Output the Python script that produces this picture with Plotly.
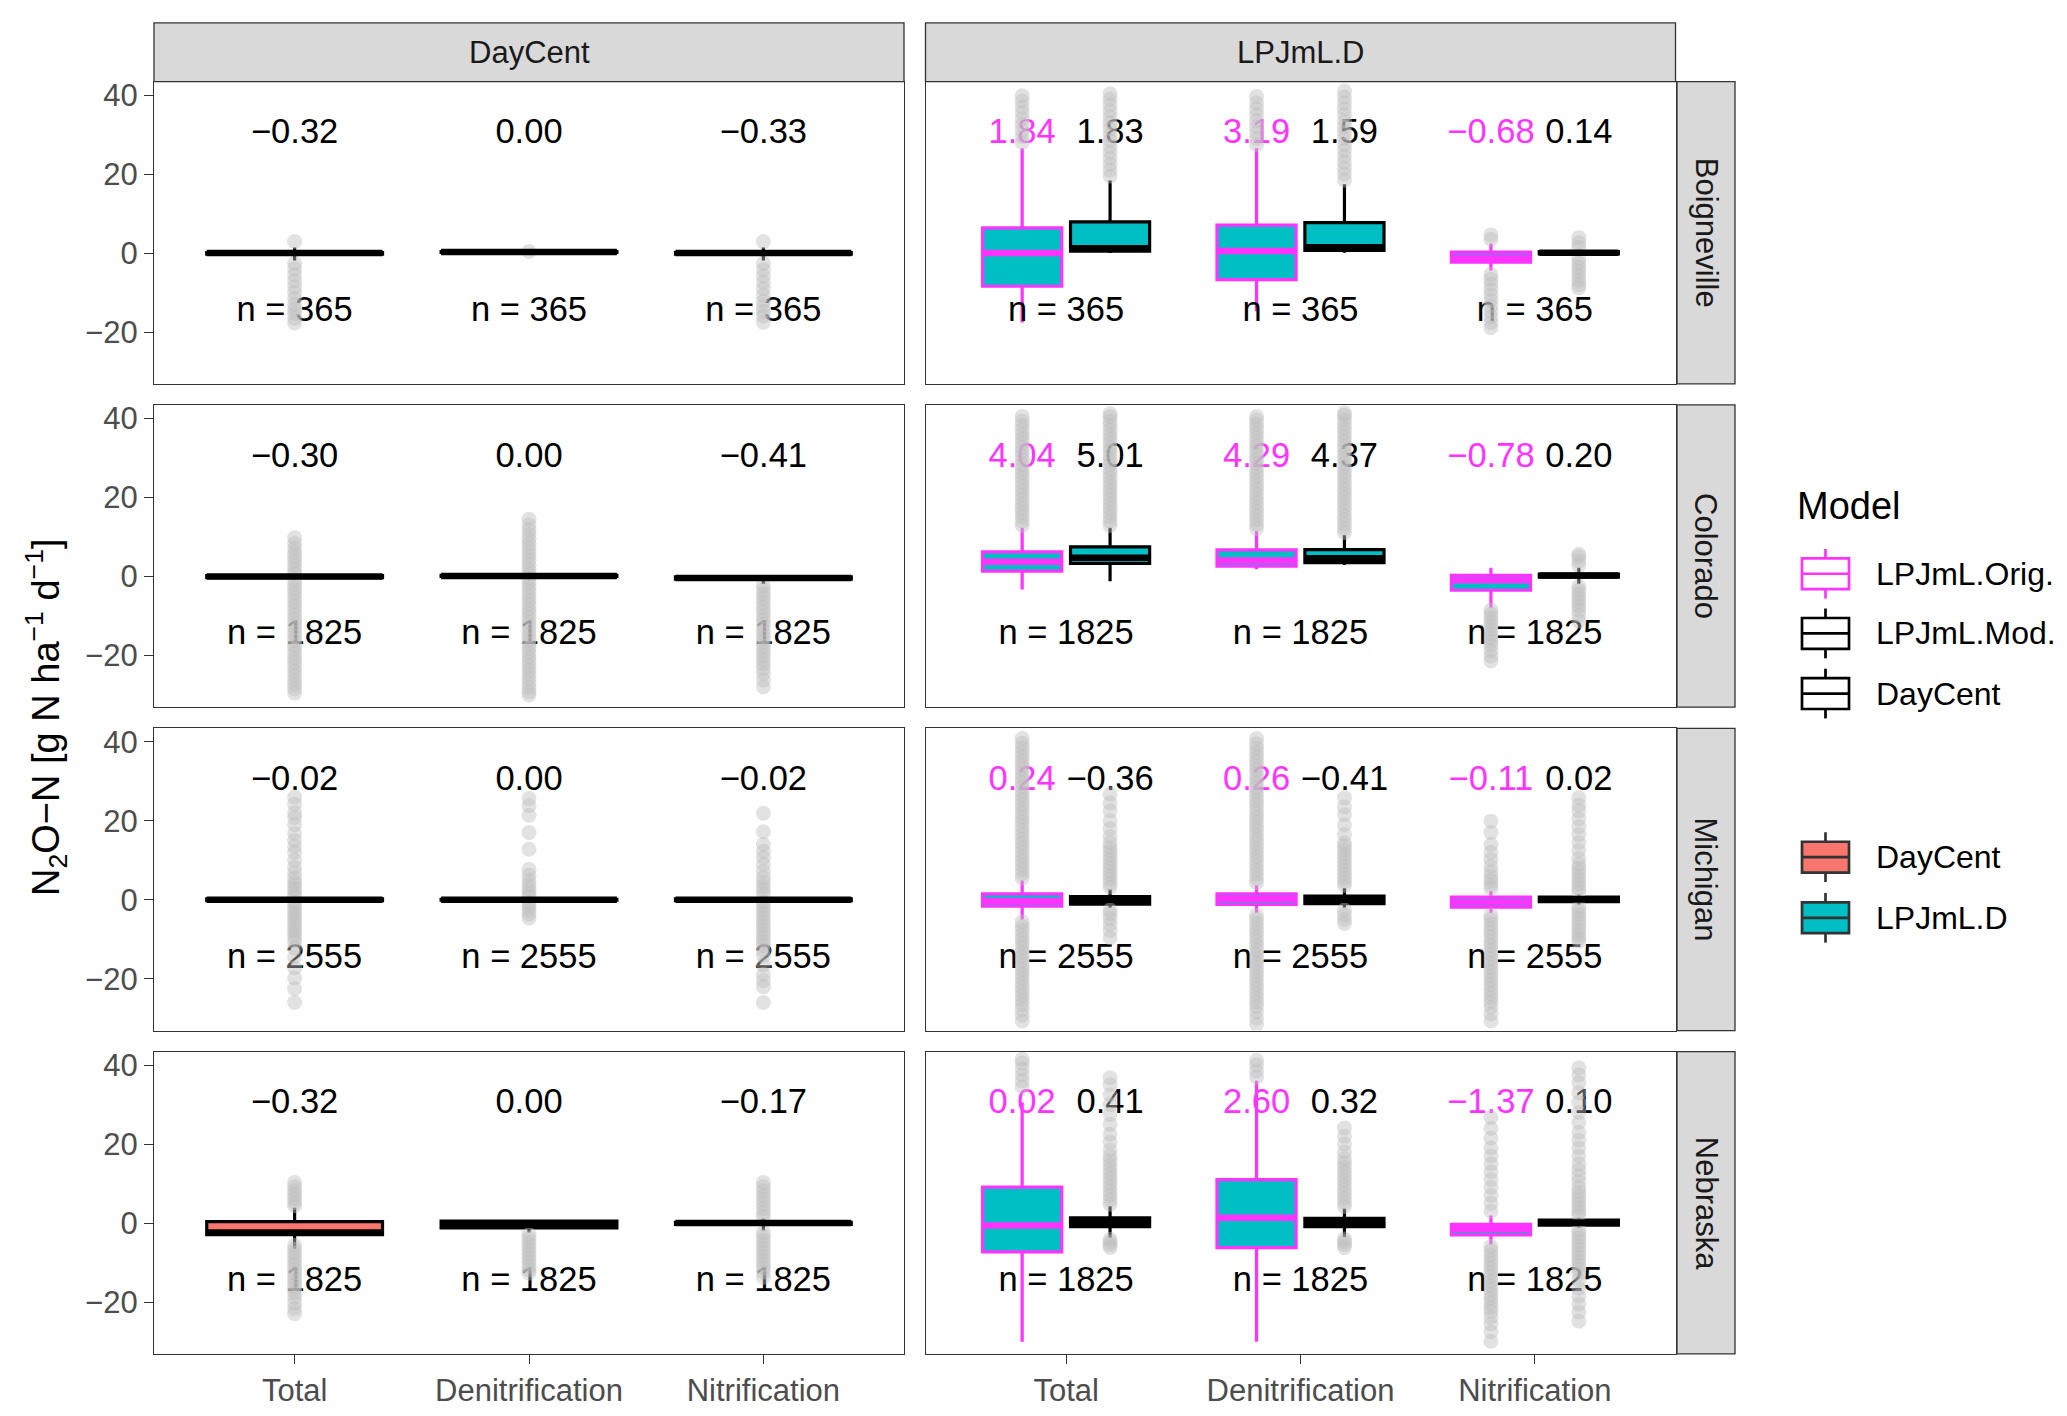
import plotly.graph_objects as go
from plotly.subplots import make_subplots

W, H = 2067, 1416
OFF = 8  # page margin around the plot div
FW, FH = W - 2 * OFF, H - 2 * OFF
FONT = "Liberation Sans, Arial, Helvetica, sans-serif"
MAGENTA = "#FF33FF"
TEAL = "#00BFC4"
SALMON = "#F8766D"
POINT = "rgba(190,190,190,0.45)"

sites = ["Boigneville", "Colorado", "Michigan", "Nebraska"]
fluxes = ["Total", "Denitrification", "Nitrification"]
columns = ["DayCent", "LPJmL.D"]
n_days = [365, 1825, 2555, 1825]

# box statistics, rows = sites, cols = fluxes
dc_q1 = [[-0.3, 0.2, -0.3], [-0.3, 0.0, -0.7], [-0.2, -0.1, -0.2], [-2.9, -1.2, -0.3]]
dc_med = [[0.0, 0.3, 0.0], [0.0, 0.1, -0.4], [0.0, 0.0, 0.0], [-2.4, -0.4, 0.0]]
dc_q3 = [[0.1, 0.4, 0.1], [0.2, 0.3, -0.1], [0.2, 0.1, 0.2], [0.4, 0.5, 0.2]]
dc_lo = [[-1.9, 0.1, -1.9], [-0.9, -0.2, -1.9], [-0.6, -0.3, -0.6], [-6.5, -2.4, -1.9]]
dc_hi = [[1.4, 0.5, 1.4], [0.6, 0.5, 0.3], [0.6, 0.3, 0.6], [3.9, 0.6, 1.1]]

orig_q1 = [[-8.4, -6.7, -2.3], [1.35, 2.6, -3.5], [-1.6, -1.2, -1.9], [-7.3, -6.2, -3.0]]
orig_med = [[0.0, 0.5, -1.2], [3.7, 4.05, -1.0], [-0.3, 0.2, -0.6], [-0.6, 1.35, -1.5]]
orig_q3 = [[6.4, 7.1, 0.25], [6.2, 6.7, 0.3], [1.5, 1.5, 0.7], [9.1, 11.0, -0.3]]
orig_lo = [[-17.6, -14.7, -4.4], [-3.3, 1.8, -7.9], [-5.0, -3.3, -3.3], [-30.0, -30.0, -5.4]]
orig_hi = [[26.5, 26.5, 2.4], [12.3, 11.5, 2.2], [4.9, 3.7, 2.2], [30.5, 36.0, 1.9]]

mod_q1 = [[0.5, 0.7, -0.2], [3.3, 3.5, -0.2], [-1.1, -1.0, -0.5], [-0.9, -0.9, -0.5]]
mod_med = [[1.2, 1.5, 0.1], [4.7, 4.6, 0.25], [0.0, 0.0, 0.1], [0.3, 0.3, 0.1]]
mod_q3 = [[7.9, 7.7, 0.4], [7.5, 6.8, 0.6], [0.8, 0.9, 0.7], [1.3, 1.2, 0.75]]
mod_lo = [[0.0, 0.1, -0.6], [-1.2, 2.9, -1.9], [-2.0, -2.0, -1.2], [-3.7, -3.5, -1.2]]
mod_hi = [[18.4, 17.4, 0.9], [12.3, 10.5, 2.2], [2.6, 3.0, 1.35], [4.3, 3.7, 1.35]]

# daily means printed above the boxes
dc_mean = [[-0.32, 0.00, -0.33], [-0.30, 0.00, -0.41], [-0.02, 0.00, -0.02], [-0.32, 0.00, -0.17]]
orig_mean = [[1.84, 3.19, -0.68], [4.04, 4.29, -0.78], [0.24, 0.26, -0.11], [0.02, 2.60, -1.37]]
mod_mean = [[1.83, 1.59, 0.14], [5.01, 4.37, 0.20], [-0.36, -0.41, 0.02], [0.41, 0.32, 0.10]]

# outliers
dc_out = [
    [[2.9, -2.6, -4.0, -5.5, -7.0, -8.5, -10.0, -11.5, -13.0, -14.2, -15.3, -16.5, -17.7],
     [0.4],
     [2.9, -2.6, -4.2, -5.8, -7.4, -9.0, -10.6, -12.2, -13.6, -14.8, -16.0, -17.5]],
    [[9.8, 8.4, 7.2, 6.1, 5.0, 3.9, 2.8, 1.7, 0.7, -0.9, -2.0, -3.1, -4.2, -5.3, -6.4, -7.5,
      -8.6, -9.7, -10.8, -11.9, -13.0, -14.1, -15.2, -16.3, -17.4, -18.5, -19.6, -20.7,
      -21.8, -22.9, -24.0, -25.1, -26.2, -27.3, -28.4, -29.5],
     [14.5, 13.0, 11.8, 10.6, 9.5, 8.4, 7.3, 6.2, 5.1, 4.0, 2.9, 1.8, 0.8, -0.6, -1.7, -2.8,
      -3.9, -5.0, -6.1, -7.2, -8.3, -9.4, -10.5, -11.6, -12.7, -13.8, -14.9, -16.0, -17.1,
      -18.2, -19.3, -20.4, -21.5, -22.6, -23.7, -24.8, -25.9, -27.0, -28.1, -29.2, -30.0],
     [-2.3, -3.4, -4.5, -5.6, -6.7, -7.8, -8.9, -10.0, -11.1, -12.2, -13.3, -14.4, -15.5,
      -16.6, -17.7, -18.8, -19.9, -21.0, -22.1, -23.2, -24.6, -26.2, -28.0]],
    [[26.0, 24.2, 22.0, 20.8, 19.0, 16.8, 15.0, 13.5, 12.0, 10.0, 8.2, 6.8, 5.5, 4.5, 3.6,
      2.7, 1.8, 0.9, -0.7, -1.6, -2.5, -3.4, -4.3, -5.2, -6.1, -7.0, -7.9, -8.8, -9.7,
      -10.7, -12.2, -14.5, -17.2, -19.8, -22.5, -26.0],
     [25.6, 23.8, 21.4, 17.0, 12.8, 7.7, 6.2, 4.9, 3.8, 2.8, 1.8, 0.9, -0.8, -1.7, -2.6,
      -3.6, -4.6],
     [21.9, 17.2, 14.0, 12.3, 10.7, 9.0, 7.2, 5.6, 4.4, 3.4, 2.4, 1.4, -0.6, -1.6, -2.6,
      -3.6, -4.6, -5.6, -6.6, -7.6, -8.6, -9.6, -10.6, -11.6, -12.8, -14.2, -16.5, -18.9,
      -20.5, -22.0, -26.0]],
    [[10.3, 9.2, 8.2, 7.2, 6.2, 5.2, 4.4, -5.6, -6.6, -7.6, -8.6, -9.6, -10.6, -11.6, -12.6,
      -13.6, -14.6, -15.6, -16.6, -17.6, -18.8, -20.2, -21.6, -22.9],
     [-2.9, -3.9, -4.9, -5.9, -6.9, -7.9, -8.9, -9.9, -10.9, -11.8, -12.7],
     [10.3, 9.2, 8.1, 7.0, 5.9, 4.8, 3.7, 2.6, 1.6, -2.4, -3.4, -4.4, -5.4, -6.4, -7.4,
      -8.4, -9.4, -10.4, -11.4, -12.4, -13.7]],
]

orig_out = [
    [[28.0, 29.5, 31.0, 32.5, 34.0, 35.5, 37.0, 38.5, 39.8],
     [27.5, 29.0, 30.5, 32.0, 33.5, 35.0, 36.5, 38.0, 39.6],
     [3.5, 4.6, -5.4, -6.6, -7.8, -9.2, -10.6, -12.0, -13.4, -14.8, -16.2, -17.6, -18.9]],
    [[12.9, 14.0, 15.1, 16.2, 17.3, 18.4, 19.5, 20.6, 21.7, 22.8, 23.9, 25.0, 26.1, 27.2,
      28.3, 29.4, 30.5, 31.6, 32.7, 33.8, 34.9, 36.0, 37.1, 38.2, 39.3, 40.5],
     [12.1, 13.2, 14.3, 15.4, 16.5, 17.6, 18.7, 19.8, 20.9, 22.0, 23.1, 24.2, 25.3, 26.4,
      27.5, 28.6, 29.7, 30.8, 31.9, 33.0, 34.1, 35.2, 36.3, 37.4, 38.5, 39.6, 40.5],
     [-8.5, -9.5, -10.5, -11.5, -12.5, -13.5, -14.5, -15.5, -16.5, -17.5, -18.8, -20.2, -21.4]],
    [[5.5, 6.6, 7.7, 8.8, 9.9, 11.0, 12.1, 13.2, 14.3, 15.4, 16.5, 17.6, 18.7, 19.8, 20.9,
      22.0, 23.1, 24.2, 25.3, 26.4, 27.5, 28.6, 29.7, 30.8, 31.9, 33.0, 34.1, 35.2, 36.3,
      37.4, 38.5, 39.6, 40.8,
      -5.6, -6.7, -7.8, -8.9, -10.0, -11.1, -12.2, -13.3, -14.4, -15.5, -16.6, -17.7, -18.8,
      -19.9, -21.0, -22.1, -23.2, -24.3, -25.4, -26.5, -27.8, -29.2, -30.7],
     [4.3, 5.4, 6.5, 7.6, 8.7, 9.8, 10.9, 12.0, 13.1, 14.2, 15.3, 16.4, 17.5, 18.6, 19.7,
      20.8, 21.9, 23.0, 24.1, 25.2, 26.3, 27.4, 28.5, 29.6, 30.7, 31.8, 32.9, 34.0, 35.1,
      36.2, 37.3, 38.4, 39.5, 40.8,
      -3.9, -5.0, -6.1, -7.2, -8.3, -9.4, -10.5, -11.6, -12.7, -13.8, -14.9, -16.0, -17.1,
      -18.2, -19.3, -20.4, -21.5, -22.6, -23.7, -24.8, -25.9, -27.0, -28.4, -30.0, -31.6],
     [2.8, 3.8, 4.8, 5.8, 7.0, 8.5, 10.2, 12.0, 14.0, 17.0, 19.9,
      -3.9, -5.0, -6.1, -7.2, -8.3, -9.4, -10.5, -11.6, -12.7, -13.8, -14.9, -16.0, -17.1,
      -18.2, -19.3, -20.4, -21.5, -22.6, -23.7, -24.8, -25.9, -27.2, -28.9, -30.7]],
    [[34.5, 36.0, 37.5, 39.0, 40.5, 41.5],
     [37.0, 38.5, 40.0, 41.2],
     [3.0, 5.0, 7.0, 9.0, 11.0, 13.0, 15.0, 17.0, 19.0, 21.5, 24.0, 26.7,
      -5.9, -7.0, -8.1, -9.2, -10.3, -11.4, -12.5, -13.6, -14.7, -15.8, -16.9, -18.0, -19.1,
      -20.2, -21.3, -22.4, -23.8, -25.5, -27.5, -29.9]],
]

mod_out = [
    [[19.5, 21.0, 22.5, 24.0, 25.5, 27.0, 28.5, 30.0, 31.5, 33.0, 34.5, 36.0, 37.5, 39.0, 40.3],
     [18.5, 20.0, 21.5, 23.0, 24.5, 26.0, 27.5, 29.0, 30.5, 32.0, 33.5, 35.0, 36.5, 38.0,
      39.5, 41.0],
     [1.5, 2.6, 3.9, -1.4, -2.5, -3.6, -4.7, -5.8, -6.9, -8.0, -8.8]],
    [[12.9, 14.0, 15.1, 16.2, 17.3, 18.4, 19.5, 20.6, 21.7, 22.8, 23.9, 25.0, 26.1, 27.2,
      28.3, 29.4, 30.5, 31.6, 32.7, 33.8, 34.9, 36.0, 37.1, 38.2, 39.3, 40.4, 41.2],
     [11.1, 12.2, 13.3, 14.4, 15.5, 16.6, 17.7, 18.8, 19.9, 21.0, 22.1, 23.2, 24.3, 25.4,
      26.5, 27.6, 28.7, 29.8, 30.9, 32.0, 33.1, 34.2, 35.3, 36.4, 37.5, 38.6, 39.7, 40.8, 41.4],
     [2.8, 3.9, 5.0, 5.6, -2.5, -3.5, -4.5, -5.5, -6.5, -7.5, -8.5, -9.8, -11.3]],
    [[3.2, 4.2, 5.2, 6.2, 7.2, 8.2, 9.2, 10.2, 11.2, 12.2, 13.2, 14.4, 16.0, 18.0, 20.0,
      22.5, 24.5, 26.7, -2.6, -3.6, -4.8, -6.2, -7.8, -9.6],
     [3.6, 4.6, 5.6, 6.6, 7.6, 8.6, 9.6, 10.6, 11.6, 12.6, 13.6, 14.4, 16.5, 19.0, 21.5,
      23.5, 25.8, -2.6, -3.8, -5.0, -6.0],
     [2.0, 3.0, 4.0, 5.0, 6.0, 7.0, 8.0, 9.0, 10.5, 12.5, 14.5, 16.5, 18.5, 20.5, 22.5,
      24.0, 25.8, -1.8, -2.8, -3.8, -4.8, -5.8, -6.8, -7.8, -8.8, -9.7, -10.5]],
    [[4.8, 5.9, 7.0, 8.1, 9.2, 10.3, 11.4, 12.5, 13.6, 14.7, 15.8, 17.0, 18.5, 20.5, 22.5,
      25.0, 27.5, 30.0, 32.5, 35.0, 36.8, -4.1, -4.8, -5.5, -6.2],
     [4.2, 5.3, 6.4, 7.5, 8.6, 9.7, 10.8, 11.9, 13.0, 14.1, 15.2, 16.3, 18.0, 20.0, 22.0,
      24.1, -4.0, -4.7, -5.4, -6.2],
     [1.9, 2.9, 3.9, 4.9, 5.9, 6.9, 7.9, 9.0, 10.5, 12.0, 13.5, 15.0, 17.0, 19.0, 21.0,
      23.0, 25.5, 28.0, 30.5, 33.0, 35.5, 37.5, 39.3,
      -1.7, -2.7, -3.7, -4.7, -5.7, -6.7, -7.7, -8.7, -9.7, -10.7, -11.7, -12.8, -14.5,
      -16.5, -18.5, -20.5, -22.5, -24.8]],
]


def fmt(v):
    return f"{v:.2f}".replace("-", "\u2212")


def px_x(x):
    return (x - OFF) / FW


def px_y(y):
    return 1 - (y - OFF) / FH


# series drawn in each facet column: (stats, means, outliers, line, fill, offset, width)
dc_series = [(dc_q1, dc_med, dc_q3, dc_lo, dc_hi, dc_mean, dc_out, "black", SALMON, 0.0, 0.75)]
lpj_series = [
    (orig_q1, orig_med, orig_q3, orig_lo, orig_hi, orig_mean, orig_out, MAGENTA, TEAL, -0.1875, 0.3375),
    (mod_q1, mod_med, mod_q3, mod_lo, mod_hi, mod_mean, mod_out, "black", TEAL, 0.1875, 0.3375),
]

fig = make_subplots(rows=4, cols=2)

col_x = [(154, 904), (925.5, 1675.5)]
row_top = [78 + r * 325.2 for r in range(4)]
PANEL_H = 304
cats = [1, 2, 3]
TICKFONT = dict(family=FONT, size=31, color="#4D4D4D")

for r in range(4):
    for c in range(2):
        row, col = r + 1, c + 1
        series = dc_series if c == 0 else lpj_series

        # text first so the points sit on top of it
        tx, ty, tt, tc = [], [], [], []
        for q1, med, q3, lo, hi, mean, out, lc, fc, off, w in series:
            for j in range(3):
                tx.append(cats[j] + off)
                ty.append(30)
                tt.append(fmt(mean[r][j]))
                tc.append(lc)
        for j in range(3):
            tx.append(cats[j])
            ty.append(-15)
            tt.append(f"n = {n_days[r]}")
            tc.append("black")
        fig.add_trace(go.Scatter(x=tx, y=ty, text=tt, mode="text",
                                 textfont=dict(family=FONT, size=34.5, color=tc),
                                 hoverinfo="skip", showlegend=False), row=row, col=col)

        for q1, med, q3, lo, hi, mean, out, lc, fc, off, w in series:
            pos = [k + off for k in cats]
            ox, oy = [], []
            for j in range(3):
                ox += [pos[j]] * len(out[r][j])
                oy += out[r][j]
            fig.add_trace(go.Scatter(x=ox, y=oy, mode="markers",
                                     marker=dict(size=15, color=POINT, line=dict(width=0)),
                                     hoverinfo="skip", showlegend=False), row=row, col=col)

            fig.add_trace(go.Box(x=pos, q1=q1[r], median=med[r], q3=q3[r],
                                 lowerfence=lo[r], upperfence=hi[r], width=w,
                                 fillcolor=fc, line=dict(color=lc, width=3.2),
                                 whiskerwidth=0, boxpoints=False, hoverinfo="skip",
                                 showlegend=False), row=row, col=col)

            mx, my = [], []
            for j in range(3):
                mx += [pos[j] - w / 2, pos[j] + w / 2, None]
                my += [med[r][j], med[r][j], None]
            fig.add_trace(go.Scatter(x=mx, y=my, mode="lines",
                                     line=dict(color=lc, width=6.5),
                                     hoverinfo="skip", showlegend=False), row=row, col=col)

        fig.update_xaxes(domain=[px_x(col_x[c][0]), px_x(col_x[c][1])],
                         range=[0.4, 3.6], tickvals=cats, ticktext=fluxes,
                         showticklabels=(r == 3), ticks="outside" if r == 3 else "",
                         row=row, col=col)
        fig.update_yaxes(domain=[px_y(row_top[r] + PANEL_H), px_y(row_top[r])],
                         range=[-33.1, 43.4], tickvals=[-20, 0, 20, 40],
                         ticktext=["\u221220", "0", "20", "40"],
                         showticklabels=(c == 0), ticks="outside" if c == 0 else "",
                         row=row, col=col)

fig.update_xaxes(showgrid=False, zeroline=False, showline=True, mirror=True,
                 linecolor="#333333", linewidth=1.3, ticklen=9, tickwidth=1.3,
                 tickcolor="#333333", tickfont=TICKFONT)
fig.update_yaxes(showgrid=False, zeroline=False, showline=True, mirror=True,
                 linecolor="#333333", linewidth=1.3, ticklen=9, tickwidth=1.3,
                 tickcolor="#333333", tickfont=TICKFONT)

shapes = []
annotations = []


def note(text, x, y, size, color="black", angle=0, xanchor="center"):
    annotations.append(dict(text=text, xref="paper", yref="paper", x=px_x(x), y=px_y(y),
                            xanchor=xanchor, yanchor="middle", textangle=angle,
                            showarrow=False, font=dict(family=FONT, size=size, color=color)))


# facet strips
for c in range(2):
    shapes.append(dict(type="rect", xref="paper", yref="paper",
                       x0=px_x(col_x[c][0]), x1=px_x(col_x[c][1]),
                       y0=px_y(78), y1=px_y(19),
                       fillcolor="#D9D9D9", line=dict(color="#333333", width=1.3), layer="below"))
    note(columns[c], (col_x[c][0] + col_x[c][1]) / 2, 48.5, 31, "#1A1A1A")
for r in range(4):
    shapes.append(dict(type="rect", xref="paper", yref="paper",
                       x0=px_x(1677), x1=px_x(1735),
                       y0=px_y(row_top[r] + PANEL_H), y1=px_y(row_top[r]),
                       fillcolor="#D9D9D9", line=dict(color="#333333", width=1.3), layer="below"))
    note(sites[r], 1706, row_top[r] + PANEL_H / 2, 31, "#1A1A1A", angle=90)

# y axis title
note("N<sub>2</sub>O\u2212N [g N ha<sup>\u22121</sup> d<sup>\u22121</sup>]", 46, 718, 38, angle=-90)

# legends
note("Model", 1795, 505, 38, xanchor="left")
legend_items = [
    ("LPJmL.Orig.", MAGENTA, "white", 573),
    ("LPJmL.Mod.", "black", "white", 633),
    ("DayCent", "black", "white", 693.5),
    ("DayCent", "#333333", SALMON, 858),
    ("LPJmL.D", "#333333", TEAL, 919),
]
for label, lc, fc, yc in legend_items:
    shapes.append(dict(type="rect", xref="paper", yref="paper",
                       x0=px_x(1802), x1=px_x(1849), y0=px_y(yc + 15.5), y1=px_y(yc - 15.5),
                       fillcolor=fc, line=dict(color=lc, width=2.7)))
    shapes.append(dict(type="line", xref="paper", yref="paper",
                       x0=px_x(1802), x1=px_x(1849), y0=px_y(yc), y1=px_y(yc),
                       line=dict(color=lc, width=2.7)))
    shapes.append(dict(type="line", xref="paper", yref="paper",
                       x0=px_x(1825.5), x1=px_x(1825.5), y0=px_y(yc - 15.5), y1=px_y(yc - 25),
                       line=dict(color=lc, width=2.7)))
    shapes.append(dict(type="line", xref="paper", yref="paper",
                       x0=px_x(1825.5), x1=px_x(1825.5), y0=px_y(yc + 15.5), y1=px_y(yc + 25),
                       line=dict(color=lc, width=2.7)))
    note(label, 1874, yc, 32, xanchor="left")

fig.update_layout(width=FW, height=FH, margin=dict(l=0, r=0, t=0, b=0),
                  paper_bgcolor="white", plot_bgcolor="white", showlegend=False,
                  font=dict(family=FONT), shapes=shapes, annotations=annotations)

fig.write_html("out.html")
